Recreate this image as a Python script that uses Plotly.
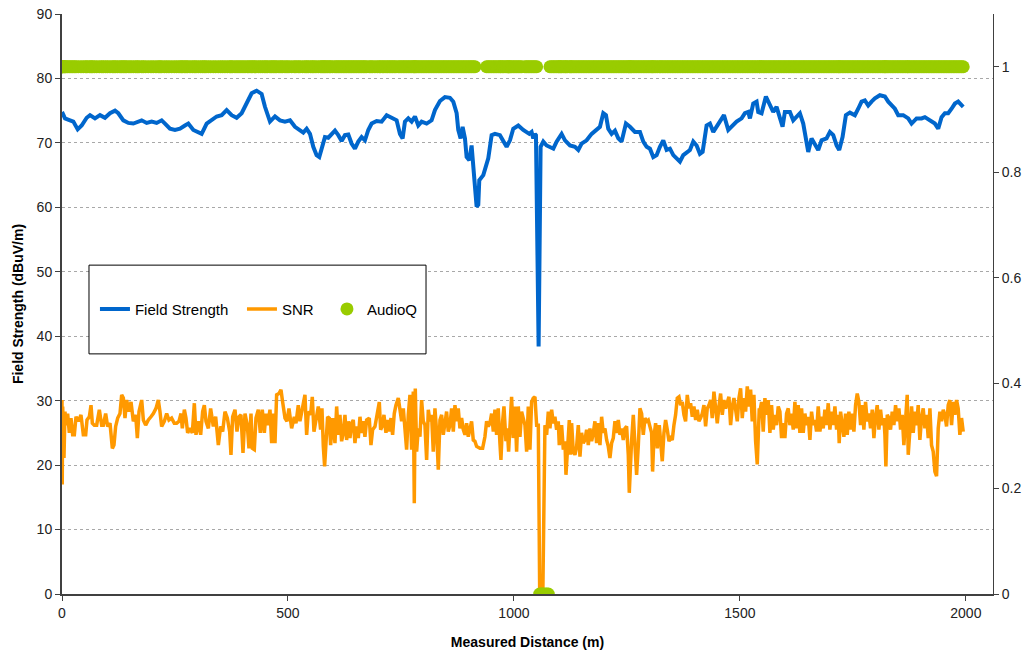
import plotly.graph_objects as go

# Field strength along the drive route (distance in m, level in dBuV/m)
fs_distance = [
    0, 6.6, 17.7, 25.1, 34.7, 43.5, 54.6, 62, 73, 84.1, 95.1, 106.2, 117.3, 124.6, 135.7,
    146.8, 157.8, 168.9, 176.3, 187.3, 198.4, 209.4, 220.5, 227.9, 238.9, 250, 261.1,
    272.1, 279.5, 290.6, 301.6, 309, 320.1, 331.1, 342.2, 353.3, 364.3, 375.4, 386.4,
    397.5, 408.6, 419.6, 430.7, 441.7, 449.1, 460.2, 471.3, 482.3, 493.4, 504.5,
    515.5, 526.5, 533.9, 541.3, 548.7, 556, 563.4, 569.3, 574.5, 581.8, 589.2, 596.6,
    604, 611.3, 618.7, 626.1, 633.5, 640.8, 648.2, 655.6, 663, 670.3, 677.7, 685.1,
    696.2, 707.2, 718.3, 729.3, 740.4, 747.8, 753.7, 758.8, 766.2, 773.6, 781, 788.3,
    795.7, 806.8, 817.8, 825.2, 836.3, 847.3, 858.4, 865.8, 873.2, 876.8, 882, 886.4,
    891.6, 895.3, 901.2, 906.3, 910, 913.7, 917.4, 921.1, 923.3, 932.2, 943.2, 950.6,
    958, 969, 976.4, 983.8, 991.2, 998.5, 1009.6, 1020.6, 1033.9,
    1039.1, 1042.8, 1046.5, 1048.7, 1054.6, 1059, 1064.9, 1072.3, 1079.7, 1087.1,
    1094.4, 1105.5, 1112.9, 1123.9, 1135, 1142.4, 1149.7, 1160.8, 1171.9, 1182.9,
    1190.3, 1197.7, 1203.6, 1208.7, 1216.1, 1223.5, 1230.9, 1238.2, 1247.8, 1256.7,
    1267.7, 1278.8, 1286.2, 1293.6, 1300.9, 1308.3, 1315.7, 1323, 1330.4, 1337.8,
    1345.2, 1352.6, 1359.9, 1367.3, 1374.7, 1382.1, 1389.4, 1396.8, 1404.2, 1411.5,
    1417.5, 1426.3, 1433.7, 1441.1, 1448.4, 1455.8, 1464.7, 1474.2, 1481.6, 1492.7,
    1503.7, 1511.1, 1518.5, 1522.2, 1529.5, 1536.9,
    1540.5, 1547.9, 1557.5, 1566.4, 1573.7, 1581.1, 1588.5, 1594.4, 1599.5, 1610.6,
    1618, 1625.4, 1632.7, 1640.1, 1646, 1651.2, 1658.5, 1665.9, 1673.3, 1680.7,
    1691.7, 1699.1, 1706.5, 1713.9, 1719.7, 1727.1, 1734.5, 1743.4, 1754.4, 1761.8,
    1769.2, 1776.5, 1783.9, 1791.3, 1798.7, 1809.7, 1820.8, 1828.2, 1835.5, 1842.9,
    1850.3, 1861.4, 1872.4, 1879.8, 1890.9, 1901.9, 1909.3, 1920.4, 1931.4, 1938.8,
    1946.2, 1953.5, 1960.9, 1968.3, 1975.7, 1983, 1990.4, 1994.1,
]
fs_level = [
    74.8, 73.8, 73.5, 73.3, 72.1, 72.7, 73.9, 74.3, 73.8, 74.3, 73.9, 74.6, 75.0, 74.6, 73.5,
    73.1, 73.0, 73.3, 73.5, 73.1, 73.3, 73.1, 73.5, 73.0, 72.2, 72.0, 72.2,
    72.7, 73.0, 72.0, 71.7, 71.4, 73.0, 73.5, 74.1, 74.3, 75.1, 74.3, 73.9,
    74.6, 76.1, 77.7, 78.1, 77.6, 75.6, 73.3, 74.1, 73.5, 73.3, 73.5,
    72.5, 72.0, 71.6, 72.2, 71.4, 69.4, 68.1, 67.8, 68.9, 70.9, 70.8, 71.4,
    71.9, 71.2, 70.3, 71.2, 71.3, 69.9, 69.1, 70.2, 70.9, 70.4, 72.0, 73.0,
    73.4, 73.3, 74.3, 73.9, 73.5, 71.4, 70.7, 73.3, 73.8, 73.3, 74.1, 72.7,
    73.3, 73.0, 73.5, 75.1, 76.5, 77.1, 77.0, 76.4, 74.6, 72.0, 70.7, 72.5,
    70.7, 67.8, 67.3, 69.6, 66.8, 64.2, 60.1, 60.4, 64.2, 65.0, 67.6, 71.2,
    71.4, 71.2, 70.4, 69.4, 70.4, 72.2, 72.7, 72.0, 71.4,
    71.7, 70.7, 71.4, 71.2, 38.4, 69.4, 70.2, 69.6, 69.4, 69.1,
    70.2, 71.4, 70.4, 69.6, 69.4, 68.9, 69.9, 70.4, 71.4, 72.0,
    72.5, 74.6, 74.3, 72.2, 71.4, 71.9, 70.7, 70.2, 73.0, 72.5,
    71.7, 71.7, 70.2, 69.4, 69.1, 67.8, 68.1, 69.4, 70.4, 68.9,
    69.1, 68.1, 67.6, 67.1, 68.1, 68.6, 68.9, 70.2, 69.6, 68.3,
    68.6, 72.7, 73.0, 71.7, 72.5, 73.5, 74.3, 72.0, 72.5, 73.3,
    73.8, 74.6, 74.8, 73.8, 76.1, 76.4,
    74.8, 74.6, 77.2, 75.8, 74.8, 75.6, 74.0, 72.5, 74.8, 74.8,
    73.5, 74.0, 74.6, 73.0, 70.4, 68.6, 70.7, 69.9, 68.9, 70.4,
    70.7, 71.7, 71.2, 69.6, 68.9, 70.9, 74.3, 74.7, 74.3, 75.3,
    76.4, 76.6, 75.8, 76.4, 76.9, 77.4, 77.2, 76.4, 75.8, 75.3,
    74.3, 74.3, 73.8, 73.0, 73.8, 73.8, 74.0, 73.5, 73.0, 72.2,
    74.0, 74.6, 74.6, 75.3, 76.1, 76.4, 75.8, 75.6,
]

# Signal-to-noise ratio along the same route (distance in m, SNR in dB)
snr_distance = [
    0, 0.5, 1.5, 4.4, 6.6, 8.8, 12.5, 16.2, 19.9, 23.6, 27.3, 31, 36.1, 42, 47.2, 52.4,
    55.3, 60.5, 64.2, 67.1, 71.5, 76.7, 82.6, 87.8, 91.4, 96.6, 101, 106.2, 111.4, 115,
    118.7, 123.2, 128.3, 132, 135.7, 139.4, 143, 148.2, 152.7, 157.8, 163, 166.7, 170.4,
    176.3, 180, 185.1, 191, 196.9, 202.1, 208, 213.1, 216.8, 220.5, 226.4, 231.6, 236.7,
    242.6, 248.5, 253.7, 258.9, 263.3, 266.2, 270.7, 274.3, 278, 283.2, 288.4, 292.8,
    296.5, 301.6, 306.8, 311.2, 314.9, 318.6, 323.8, 328.9, 334.8, 340, 345.9, 351,
    355.5, 360.6, 365.8, 371, 373.9, 377.6, 382.8, 387.2, 391.6, 396, 400.5, 404.9, 410,
    413.7, 418.2, 421.1, 425.5, 429.2, 434.4, 438.8, 443.2, 447.7, 451.3, 455, 460.2,
    463.9, 467.6, 471.3, 474.9, 480.1, 484.5, 488.2, 493.4, 497.8, 502.2, 508.1, 514,
    517.7, 522.8, 526.5, 532.4, 537.6, 541.3, 545, 550.1, 553.8, 557.5, 561.9, 567.1,
    572.2, 575.2, 578.2, 581.1, 584.1, 587.7, 591.4, 594.4, 598.8, 604, 607.7, 611.3,
    615, 618.7, 622.4, 626.1, 629.8, 633.5, 637.2, 640.8, 644.5, 648.2, 651.9, 655.6,
    659.3, 663, 666.7, 670.3, 674, 679.9, 683.6, 687.3, 692.5, 697.6, 702.1, 705, 709.4,
    712.4, 716.8, 720.5, 724.2, 727.9, 731.5, 735.2, 738.9, 744.1, 747.8, 751.5, 755.2,
    758.8, 762.5, 766.2, 769.9, 773.6, 777.3, 779.5, 781.7, 784.7, 788.3, 792, 795.7,
    799.4, 803.1, 806.8, 810.5, 814.2, 817.8, 821.5, 825.2, 828.9, 832.6, 836.3, 840,
    843.7, 847.3, 851, 854.7, 858.4, 862.1, 865.8, 869.5, 873.2, 876.8, 880.5, 884.2,
    887.9, 891.6, 895.3, 899, 902.7, 906.3, 910, 913.7, 917.4, 924.8, 930.7, 935.8,
    939.5, 943.2, 946.9, 950.6, 954.3, 958, 961.6, 965.3, 969, 971.2, 974.9, 977.9,
    982.3, 985.2, 988.2, 991.2, 994.8, 998.5, 1002.2, 1005.9, 1009.6, 1013.3, 1017,
    1024.4, 1028.1, 1031.7, 1035.4, 1039.1, 1042.8, 1046.5, 1050.2, 1053.9, 1057, 1061,
    1064, 1068.6, 1072.3, 1076, 1079.7, 1083.4, 1087.1, 1090.7, 1094.4, 1098.1, 1100.3,
    1103.3, 1105.5, 1109.2, 1112.9, 1115.1, 1118, 1122.5, 1125.4, 1127.6, 1131.3, 1135,
    1138.7, 1142.4, 1146.1, 1149.7, 1153.4, 1157.1, 1160.8, 1164.5, 1168.2, 1171.9,
    1175.6, 1179.2, 1182.9, 1186.6, 1190.3, 1194, 1197.7, 1201.4, 1205.1, 1208.7, 1212.4,
    1216.1, 1219.8, 1223.5, 1227.2, 1230.9, 1234.6, 1238.2, 1241.9, 1245.6, 1249.3, 1253,
    1255.2, 1258.2, 1260.4, 1264.1, 1267.7, 1271.4, 1275.1, 1278.8, 1282.5, 1286.2,
    1289.9, 1293.6, 1297.2, 1300.9, 1304.6, 1306.8, 1309.8, 1313.5, 1317.2, 1321.6,
    1324.5, 1328.2, 1331.9, 1335.6, 1339.3, 1343, 1346.7, 1350.3, 1354, 1357.7, 1361.4,
    1365.1, 1368.8, 1372.5, 1376.2, 1379.8, 1383.5, 1387.2, 1390.9, 1394.6, 1398.3, 1402,
    1405.7, 1409.3, 1413, 1416.7, 1420.4, 1424.1, 1427.8, 1431.5, 1435.2, 1438.8, 1442.5,
    1446.2, 1449.9, 1453.6, 1457.3, 1461, 1464.7, 1468.3, 1472, 1475.7, 1479.4, 1483.1,
    1486.8, 1490.5, 1494.2, 1497.8, 1501.5, 1505.2, 1508.9, 1512.6, 1516.3, 1520, 1523.7,
    1527.3, 1531, 1534.7, 1538.4, 1542.8,
    1544.2, 1547.9, 1551.6, 1555.3, 1559, 1562.7, 1566.4, 1570, 1573.7, 1577.4, 1581.1,
    1584.8, 1588.5, 1592.2, 1595.9, 1599.5, 1603.2, 1606.9, 1610.6, 1614.3, 1618, 1621.7,
    1625.4, 1629, 1632.7, 1636.4, 1640.1, 1643.8, 1647.5, 1651.2, 1654.9, 1658.5, 1662.2,
    1665.9, 1669.6, 1673.3, 1677, 1680.7, 1684.4, 1688, 1691.7, 1695.4, 1699.1, 1702.8,
    1706.5, 1710.2, 1713.9, 1717.5, 1719.7, 1722.7, 1726.4, 1730.1, 1733.8, 1737.5,
    1741.1, 1744.8, 1748.5, 1752.2, 1755.9, 1759.6, 1763.3, 1767, 1770.6, 1774.3, 1778,
    1781.7, 1785.4, 1789.1, 1792.8, 1796.5, 1800.1, 1803.8, 1807.5, 1811.2, 1814.9,
    1818.6, 1820.8, 1823, 1826, 1829.6, 1833.3, 1837, 1840.7, 1844.4, 1848.1, 1851.8,
    1855.5, 1859.1, 1862.8, 1866.5, 1870.2, 1872.4, 1876.1, 1879.8, 1883.5, 1887.2,
    1890.9, 1894.5, 1898.2, 1901.9, 1905.6, 1909.3, 1913, 1916.7, 1920.4, 1924, 1927.7,
    1931.4, 1935.1, 1938.8, 1942.5, 1946.2, 1949.9, 1953.5, 1957.2, 1960.9, 1964.6,
    1968.3, 1972, 1975.7, 1979.4, 1983, 1986.7, 1990.4, 1994.1,
]
snr_db = [
    30.1, 17.0, 29.1, 21.1, 28.3, 26.2, 28.0, 25.0, 27.3, 24.7, 24.7, 27.5, 26.8, 27.8, 24.7, 24.7,
    27.0, 27.5, 29.3, 26.5, 26.2, 26.2, 28.6, 26.2, 26.2, 28.0, 26.0, 26.5, 22.6, 23.1,
    26.0, 27.3, 28.0, 30.9, 30.4, 27.3, 30.1, 28.3, 29.8, 26.8, 27.8, 24.2, 28.3,
    30.1, 27.0, 26.2, 27.0, 27.5, 28.0, 28.8, 30.1, 28.3, 26.0, 26.8, 28.0, 27.0,
    27.3, 26.5, 26.5, 26.8, 28.0, 25.7, 28.6, 27.3, 25.0, 25.7, 25.0, 29.6,
    24.7, 26.8, 24.7, 28.3, 29.3, 26.8, 25.7, 28.8, 26.0, 27.5, 23.1, 26.0,
    25.2, 28.3, 27.3, 25.2, 21.6, 27.5, 28.6, 25.2, 27.5, 27.8, 21.9, 28.0, 26.2,
    22.6, 28.0, 22.6, 22.4, 27.3, 28.6, 25.0, 28.6, 25.0, 28.0, 26.2, 28.6,
    23.4, 28.0, 23.4, 30.9, 31.1, 31.7, 29.8, 27.3, 26.8, 28.8, 25.7, 27.5,
    26.5, 29.3, 26.8, 29.3, 30.9, 24.7, 28.3, 27.8, 30.6, 25.2, 27.3, 29.1,
    25.5, 28.8, 22.9, 19.8, 23.4, 27.5, 27.3, 23.1, 27.3, 23.4, 29.1, 24.7,
    27.8, 23.7, 25.0, 27.8, 23.9, 26.8, 24.2, 26.5, 27.0, 23.4, 26.0, 24.2,
    27.5, 25.0, 26.8, 24.4, 27.0, 27.3, 23.1, 25.5, 26.0, 28.3, 29.8, 25.5, 26.2,
    27.8, 25.0, 27.0, 25.2, 27.3, 24.7, 28.0, 29.3, 30.4, 28.8, 26.8, 28.8,
    24.7, 22.4, 27.8, 30.9, 22.4, 31.4, 14.1, 31.9, 22.1, 25.7, 24.4, 30.1,
    26.8, 26.2, 20.8, 28.6, 26.8, 27.8, 22.1, 28.8, 25.2, 19.3, 27.0, 27.8,
    24.7, 26.8, 28.3, 25.2, 26.2, 28.8, 25.2, 29.3, 26.8, 28.8, 25.7, 27.3,
    25.5, 24.7, 26.5, 24.4, 25.5, 26.8, 23.9, 23.7, 22.9, 22.6, 22.6, 24.4,
    26.8, 26.0, 26.5, 28.0, 25.2, 28.6, 24.7, 28.8, 23.4, 20.8, 26.8, 29.1,
    23.7, 25.7, 22.1, 25.7, 30.6, 24.2, 29.1, 22.1, 29.1, 24.4, 28.3,
    26.2, 22.1, 29.1, 22.4, 29.8, 30.4, 30.6, 26.2, 26.2, 0.3, 0.2,
    0.5, 26.2, 24.7, 28.3, 25.7, 28.6, 26.5, 27.5, 25.5, 26.8, 23.1,
    25.7, 26.2, 22.4, 23.7, 18.5, 22.1, 27.0, 21.6, 26.5, 22.1, 21.6,
    22.9, 26.2, 21.3, 25.0, 23.4, 23.9, 25.5, 23.1, 25.7, 23.7,
    25.0, 26.8, 23.4, 26.5, 23.1, 27.5, 25.0, 25.7, 23.9, 22.9, 21.1,
    23.4, 24.2, 26.8, 25.0, 27.0, 24.7, 25.7, 23.9, 25.7, 26.0, 21.6,
    15.7, 21.3, 23.9, 27.8, 22.1, 18.5, 22.9, 28.8, 28.0, 24.7,
    27.3, 26.8, 27.0, 26.2, 25.0, 19.0, 24.4, 26.5, 22.6, 26.2,
    22.9, 20.6, 25.0, 27.0, 25.5, 23.7, 24.2, 23.9, 26.2, 27.8, 30.4,
    30.6, 29.3, 29.8, 27.8, 26.8, 30.9, 28.8, 29.6, 27.5, 29.1, 27.0,
    28.6, 26.8, 27.3, 28.0, 29.3, 26.0, 28.8, 29.3, 30.1, 27.3, 31.4,
    28.6, 26.5, 29.1, 31.1, 27.8, 30.1, 28.8, 29.6, 30.6, 26.2, 29.1,
    30.4, 28.8, 26.8, 30.4, 31.9, 27.3, 30.4, 28.3, 32.2, 29.1, 31.7,
    26.8, 30.9, 23.7, 20.1, 28.8,
    28.3, 29.8, 25.2, 30.4, 27.8, 30.1, 25.0, 29.3, 25.5, 27.8, 26.2,
    29.1, 28.3, 24.2, 26.5, 24.2, 28.0, 28.8, 26.2, 28.0, 25.5, 29.8,
    25.7, 29.3, 25.0, 28.8, 25.0, 28.0, 26.2, 27.5, 23.9, 28.3, 26.2,
    27.0, 25.2, 29.1, 25.2, 27.5, 25.7, 28.6, 26.2, 29.6, 25.5, 28.3,
    26.2, 29.1, 25.5, 27.8, 23.4, 28.3, 26.2, 24.4, 28.0, 24.7,
    28.3, 25.5, 28.0, 25.2, 29.3, 31.1, 29.8, 26.2, 29.3, 25.5, 29.8,
    26.8, 28.0, 25.7, 28.6, 24.2, 27.5, 29.3, 25.5, 28.6, 26.2,
    27.3, 24.7, 19.8, 27.8, 27.3, 25.5, 28.3, 26.2, 29.3, 26.8, 28.8,
    25.5, 27.8, 23.1, 27.3, 30.9, 21.6, 25.7, 29.1, 25.0, 28.3,
    26.2, 29.3, 23.9, 27.3, 28.8, 25.7, 27.8, 24.2, 28.8, 23.1, 22.1,
    19.0, 18.3, 25.7, 28.3, 26.8, 28.6, 27.8, 26.0, 29.3, 30.1,
    26.2, 29.8, 27.8, 30.1, 28.8, 24.7, 27.3, 25.2,
]

# Audio quality flag: (from m, to m, value) for each stretch of the route
audioq_runs = [(0, 914, 1), (939, 1051, 1), (1054, 1076, 0), (1079, 1995, 1)]
audioq_distance = []
audioq_value = []
for d in snr_distance:
    for start, end, flag in audioq_runs:
        if start <= d <= end:
            audioq_distance.append(d)
            audioq_value.append(flag)
            break

FONT = "Liberation Sans, Arial, sans-serif"
AXIS_COLOR = "#404040"
LEGEND_FONT = dict(family=FONT, size=15, color="#000000")

fig = go.Figure()
fig.add_trace(go.Scatter(
    x=fs_distance, y=fs_level, mode="lines", name="Field Strength",
    line=dict(color="#0066cc", width=4), legend="legend",
))
fig.add_trace(go.Scatter(
    x=snr_distance, y=snr_db, mode="lines", name="SNR",
    line=dict(color="#ff9900", width=3.5), legend="legend2",
))
fig.add_trace(go.Scatter(
    x=audioq_distance, y=audioq_value, mode="markers", name="AudioQ", yaxis="y2",
    marker=dict(color="#99cc00", size=13, line=dict(width=0)), legend="legend3",
))

# framed box behind the legend entries
fig.add_shape(
    type="rect", xref="paper", yref="paper",
    x0=0.029, x1=0.391, y0=0.414, y1=0.567,
    line=dict(color="#000000", width=1), fillcolor="white", layer="above",
)


def legend_at(x):
    return dict(
        orientation="h", x=x, xanchor="left", y=0.491, yanchor="middle",
        bgcolor="rgba(0,0,0,0)", borderwidth=0, font=LEGEND_FONT,
    )


fig.update_layout(
    width=1029, height=654,
    margin=dict(l=62, r=36, t=14, b=60),
    paper_bgcolor="white", plot_bgcolor="white",
    font=dict(family=FONT, size=14, color="#222222"),
    showlegend=True,
    legend=legend_at(0.0354),
    legend2=legend_at(0.1933),
    legend3=legend_at(0.2846),
    xaxis=dict(
        range=[0, 2060], tickvals=[0, 500, 1000, 1500, 2000],
        showline=True, linecolor=AXIS_COLOR, linewidth=2,
        ticks="outside", ticklen=5, tickcolor=AXIS_COLOR,
        showgrid=False, zeroline=False, automargin=False,
        tickfont=dict(size=14, color="#222222"),
        title=dict(text="<b>Measured Distance (m)</b>", font=dict(size=14, color="#000000"), standoff=17),
    ),
    yaxis=dict(
        range=[0, 90], dtick=10,
        showline=True, linecolor=AXIS_COLOR, linewidth=2,
        ticks="outside", ticklen=5, tickcolor=AXIS_COLOR,
        showgrid=True, gridcolor="#a8a8a8", gridwidth=1, griddash="dot",
        zeroline=False, automargin=False,
        tickfont=dict(size=14, color="#222222"),
        title=dict(text="<b>Field Strength (dBuV/m)</b>", font=dict(size=14, color="#000000"), standoff=10),
    ),
    yaxis2=dict(
        overlaying="y", side="right", range=[0, 1.1],
        tickvals=[0, 0.2, 0.4, 0.6, 0.8, 1],
        ticktext=["0", "0.2", "0.4", "0.6", "0.8", "1"],
        showline=True, linecolor=AXIS_COLOR, linewidth=1,
        ticks="outside", ticklen=5, tickcolor=AXIS_COLOR,
        showgrid=False, zeroline=False, automargin=False,
        tickfont=dict(size=14, color="#222222"),
    ),
)

fig.write_html("out.html")
